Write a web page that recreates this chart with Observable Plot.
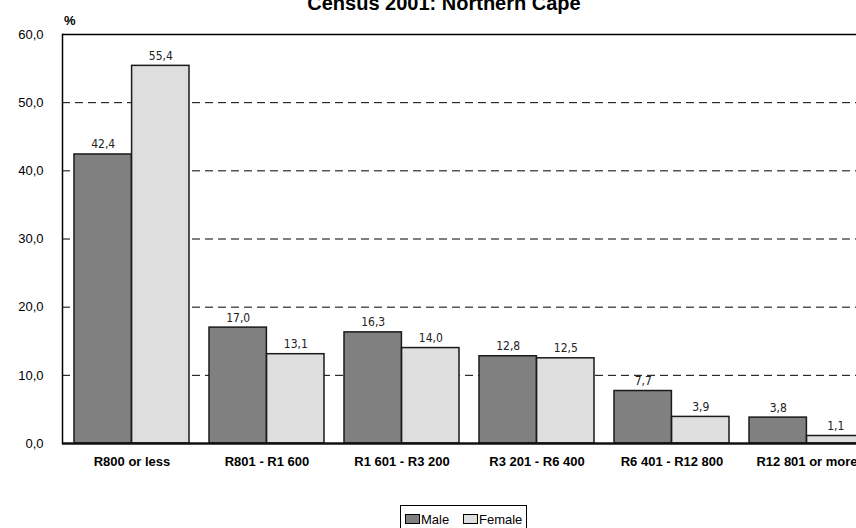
<!DOCTYPE html>
<html>
<head>
<meta charset="utf-8">
<script src="https://cdn.jsdelivr.net/npm/d3@7"></script>
<script src="https://cdn.jsdelivr.net/npm/@observablehq/plot@0.6"></script>
<style>
  html, body { margin: 0; padding: 0; overflow: hidden; background: #fff; width: 856px; height: 528px; }
  body { position: relative; font-family: "Liberation Sans", Arial, sans-serif; }
  #chart { position: absolute; left: 0; top: 0; width: 876px; z-index: 1; }
  #chart svg { max-width: none !important; }
  #title { position: absolute; z-index: 2; left: 0; width: 888px; top: -7px; line-height: 20px; text-align: center; font-size: 20px; font-weight: bold; color: #000; white-space: nowrap; }
  #unit { position: absolute; z-index: 2; left: 64px; top: 13px; font-size: 13px; font-weight: bold; line-height: 15px; }
  #legend { position: absolute; z-index: 2; left: 400px; top: 505px; width: 127px; height: 26px; border: 1px solid #000; box-sizing: border-box; font-size: 13px; line-height: 14px; background: #fff; }
  #legend .item { position: absolute; top: 7px; white-space: nowrap; }
  #legend .sw { display: inline-block; width: 13px; height: 8px; border: 1px solid #000; margin-right: 1px; vertical-align: 0px; }
</style>
</head>
<body>
<div id="chart"></div>
<div id="title">Census 2001: Northern Cape</div>
<div id="unit">%</div>
<div id="legend"></div>
<script>
const categories = ["R800 or less", "R801 - R1 600", "R1 601 - R3 200", "R3 201 - R6 400", "R6 401 - R12 800", "R12 801 or more"];
const maleValues = [42.4, 17.0, 16.3, 12.8, 7.7, 3.8];
const femaleValues = [55.4, 13.1, 14.0, 12.5, 3.9, 1.1];
const series = ["Male", "Female"];
const seriesColors = ["#808080", "#dedede"];
const yTicks = [0, 10, 20, 30, 40, 50, 60];
const gridTicks = [10, 20, 30, 40, 50];

const male = categories.map((c, i) => ({cat: c, sex: "Male", value: maleValues[i]}));
const female = categories.map((c, i) => ({cat: c, sex: "Female", value: femaleValues[i]}));

const width = 876, height = 490;
const marginLeft = 62, marginRight = 1, marginTop = 34, marginBottom = 47;
const pInner = 0.15, pOuter = 0.075;
const step = (width - marginLeft - marginRight) / (categories.length - pInner + 2 * pOuter);
const bw = step * (1 - pInner);
const half = bw / 2;

const fmt = d => d.toFixed(1).replace(".", ",");
const labelFont = "'Liberation Sans Narrow', 'DejaVu Sans Condensed', 'Liberation Sans', sans-serif";

const chart = Plot.plot({
  width, height, marginLeft, marginRight, marginTop, marginBottom,
  style: {fontFamily: "'Liberation Sans', Arial, sans-serif", background: "transparent", color: "black", overflow: "visible", maxWidth: "none"},
  x: {domain: categories, paddingInner: pInner, paddingOuter: pOuter, label: null},
  y: {domain: [0, 60], label: null},
  marks: [
    Plot.text(male, {x: "cat", y: "value", text: d => fmt(d.value), dx: -half / 2, dy: -6, lineAnchor: "bottom", fontSize: 12, fontFamily: labelFont, fill: "#222"}),
    Plot.text(female, {x: "cat", y: "value", text: d => fmt(d.value), dx: half / 2, dy: -6, lineAnchor: "bottom", fontSize: 12, fontFamily: labelFont, fill: "#222"}),
    Plot.ruleY(gridTicks, {stroke: "#000", strokeDasharray: "8,5", strokeWidth: 1}),
    Plot.barY(male, {x: "cat", y: "value", fill: seriesColors[0], stroke: "#1a1a1a", strokeWidth: 1.5, insetRight: half, insetLeft: 0}),
    Plot.barY(female, {x: "cat", y: "value", fill: seriesColors[1], stroke: "#1a1a1a", strokeWidth: 1.5, insetLeft: half, insetRight: 0}),
    Plot.ruleY([60], {stroke: "#000", strokeWidth: 1.5}),
    Plot.frame({stroke: "#000", strokeWidth: 1.5, anchor: "left"}),
    Plot.ruleY([0], {stroke: "#111", strokeWidth: 2.5}),
    Plot.axisY({ticks: yTicks, tickSize: 0, tickPadding: 19, tickFormat: fmt, fontSize: 13, label: null}),
    Plot.axisX({tickSize: 0, tickPadding: 13, fontSize: 13, fontWeight: "bold", label: null})
  ]
});
document.getElementById("chart").appendChild(chart);

const legend = document.getElementById("legend");
const itemLeft = [4, 62];
series.forEach((s, i) => {
  const item = document.createElement("span");
  item.className = "item";
  item.style.left = itemLeft[i] + "px";
  const sw = document.createElement("span");
  sw.className = "sw";
  sw.style.background = seriesColors[i];
  item.appendChild(sw);
  item.appendChild(document.createTextNode(s));
  legend.appendChild(item);
});
</script>
</body>
</html>
